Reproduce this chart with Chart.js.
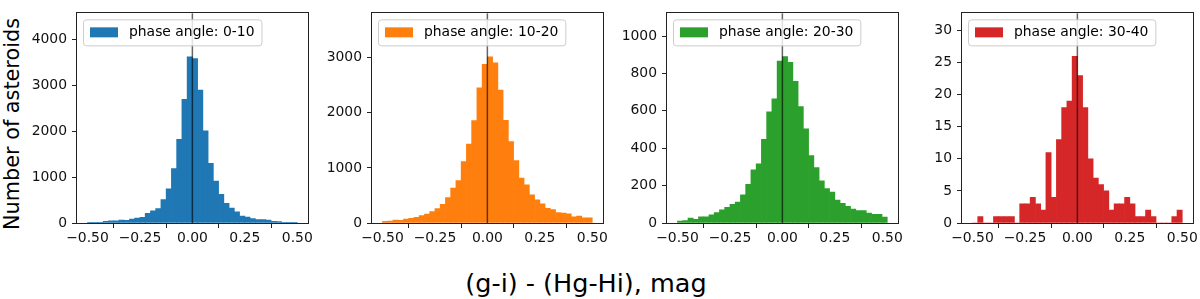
<!DOCTYPE html>
<html>
<head>
<meta charset="utf-8">
<script src="https://cdn.jsdelivr.net/npm/chart.js@4"></script>
<style>
  body { margin: 0; width: 1200px; height: 299px; background: #fff; position: relative; overflow: hidden; font-family: "DejaVu Sans", sans-serif; }
  canvas { position: absolute; top: 0; }
  .ytitle { position: absolute; left: 12px; top: 124px; transform: translate(-50%, -50%) rotate(-90deg); font-size: 20.8px; white-space: nowrap; color: #000; }
  .xtitle { position: absolute; left: 586px; top: 283px; transform: translate(-50%, -50%); font-size: 25.5px; white-space: nowrap; color: #000; }
</style>
</head>
<body>
<canvas id="p1" width="288" height="260" style="left:27px"></canvas>
<canvas id="p2" width="288" height="260" style="left:322px"></canvas>
<canvas id="p3" width="288" height="260" style="left:617px"></canvas>
<canvas id="p4" width="288" height="260" style="left:912px"></canvas>
<div class="ytitle">Number of asteroids</div>
<div class="xtitle">(g-i) - (Hg-Hi), mag</div>
<script>
// bin centres, width 0.025 between -0.5 and 0.5
const binCenters = [-0.4875, -0.4625, -0.4375, -0.4125, -0.3875, -0.3625, -0.3375, -0.3125, -0.2875, -0.2625,
  -0.2375, -0.2125, -0.1875, -0.1625, -0.1375, -0.1125, -0.0875, -0.0625, -0.0375, -0.0125,
  0.0125, 0.0375, 0.0625, 0.0875, 0.1125, 0.1375, 0.1625, 0.1875, 0.2125, 0.2375,
  0.2625, 0.2875, 0.3125, 0.3375, 0.3625, 0.3875, 0.4125, 0.4375, 0.4625, 0.4875];

const counts0_10 = [8, 15, 15, 35, 50, 45, 65, 60, 85, 108, 122, 209, 266, 316, 511, 748, 1187, 1827, 2700, 3630,
  3590, 2900, 2014, 1302, 914, 626, 432, 324, 245, 151, 130, 94, 72, 72, 65, 36, 29, 14, 7, 3];
const counts10_20 = [30, 36, 53, 48, 71, 83, 101, 137, 160, 208, 261, 339, 463, 636, 772, 1117, 1432, 1860, 2454, 2882,
  3018, 2911, 2412, 1866, 1479, 1135, 814, 695, 511, 422, 350, 267, 244, 190, 178, 166, 113, 125, 95, 95];
const counts20_30 = [10, 13, 26, 19, 33, 33, 44, 56, 70, 84, 100, 112, 151, 207, 285, 317, 448, 595, 664, 867,
  890, 860, 758, 623, 504, 361, 296, 226, 184, 166, 123, 105, 89, 75, 67, 67, 53, 47, 47, 32];
const counts30_40 = [0, 1, 0, 0, 1, 1, 1, 1, 0, 3, 3, 4, 3, 2, 11, 4, 13, 18, 19, 26,
  23, 18, 10, 7, 6, 5, 2, 3, 3, 4, 3, 1, 1, 2, 1, 0, 0, 0, 1, 2];

const labels = ['phase angle: 0-10', 'phase angle: 10-20', 'phase angle: 20-30', 'phase angle: 30-40'];
const colors = ['#1f77b4', '#ff7f0e', '#2ca02c', '#d62728'];

const xTicks = [-0.5, -0.25, 0, 0.25, 0.5];
const yTicks1 = [0, 1000, 2000, 3000, 4000];
const yTicks2 = [0, 1000, 2000, 3000];
const yTicks3 = [0, 200, 400, 600, 800, 1000];
const yTicks4 = [0, 5, 10, 15, 20, 25, 30];
const yMax = [4577, 3808, 1122, 32.7];

const tickFont = { family: 'DejaVu Sans', size: 13.9 };

const framePlugin = {
  id: 'frame',
  afterDraw(chart) {
    const ctx = chart.ctx;
    const a = chart.chartArea;
    const x0 = chart.scales.x.getPixelForValue(0);
    ctx.save();
    // vertical line at zero
    ctx.strokeStyle = 'rgba(0,0,0,0.6)';
    ctx.lineWidth = 1.5;
    ctx.beginPath();
    ctx.moveTo(x0, a.top);
    ctx.lineTo(x0, a.bottom);
    ctx.stroke();

    // legend box
    const text = chart.data.datasets[0].label;
    ctx.font = '13.9px "DejaVu Sans"';
    const tw = ctx.measureText(text).width;
    const bx = a.left + 6, by = a.top + 6, bh = 26;
    const bw = 7 + 28 + 11 + tw + 7;
    ctx.fillStyle = 'rgba(255,255,255,0.8)';
    ctx.strokeStyle = '#cccccc';
    ctx.lineWidth = 1;
    ctx.beginPath();
    ctx.roundRect(bx + 0.5, by + 0.5, bw, bh, 3);
    ctx.fill();
    ctx.stroke();
    ctx.fillStyle = chart.data.datasets[0].backgroundColor;
    ctx.fillRect(bx + 7, by + 8, 28, 10);
    ctx.fillStyle = '#000';
    ctx.textBaseline = 'middle';
    ctx.fillText(text, bx + 46, by + 13.5);

    // axes frame
    ctx.strokeStyle = '#222';
    ctx.lineWidth = 1;
    ctx.strokeRect(Math.round(a.left) - 0.5, Math.round(a.top) - 0.5, Math.round(a.right - a.left) + 1, Math.round(a.bottom - a.top) + 1);
    ctx.restore();
  }
};

function fmtX(v) {
  return v.toFixed(2).replace('-', '\u2212');
}

function makePanel(id, counts, color, label, max, yTicks) {
  const ctx = document.getElementById(id).getContext('2d');
  return new Chart(ctx, {
    type: 'bar',
    data: {
      datasets: [{
        label: label,
        data: binCenters.map((x, i) => ({ x: x, y: counts[i] })),
        backgroundColor: color,
        borderWidth: 0,
        barPercentage: 1,
        categoryPercentage: 1
      }]
    },
    options: {
      responsive: false,
      animation: false,
      devicePixelRatio: 1,
      layout: { padding: { top: 9, right: 6, left: 0, bottom: 0 } },
      plugins: { legend: { display: false }, tooltip: { enabled: false } },
      scales: {
        x: {
          type: 'linear',
          min: -0.55,
          max: 0.55,
          offset: false,
          grid: { display: true, drawOnChartArea: false, drawTicks: true, tickLength: 5, tickColor: '#222', tickWidth: 1 },
          border: { display: false },
          ticks: { font: tickFont, color: '#111', padding: 2, maxRotation: 0, callback: v => fmtX(v) },
          afterBuildTicks: s => { s.ticks = xTicks.map(v => ({ value: v })); },
          afterFit: s => { s.height = 37; }
        },
        y: {
          type: 'linear',
          min: 0,
          max: max,
          grid: { display: true, drawOnChartArea: false, drawTicks: true, tickLength: 5, tickColor: '#222', tickWidth: 1 },
          border: { display: false },
          ticks: { font: tickFont, color: '#111', padding: 5, callback: v => String(v) },
          afterBuildTicks: s => { s.ticks = yTicks.map(v => ({ value: v })); },
          afterFit: s => { s.width = 50; }
        }
      }
    },
    plugins: [framePlugin]
  });
}

makePanel('p1', counts0_10, colors[0], labels[0], yMax[0], yTicks1);
makePanel('p2', counts10_20, colors[1], labels[1], yMax[1], yTicks2);
makePanel('p3', counts20_30, colors[2], labels[2], yMax[2], yTicks3);
makePanel('p4', counts30_40, colors[3], labels[3], yMax[3], yTicks4);
</script>
</body>
</html>
